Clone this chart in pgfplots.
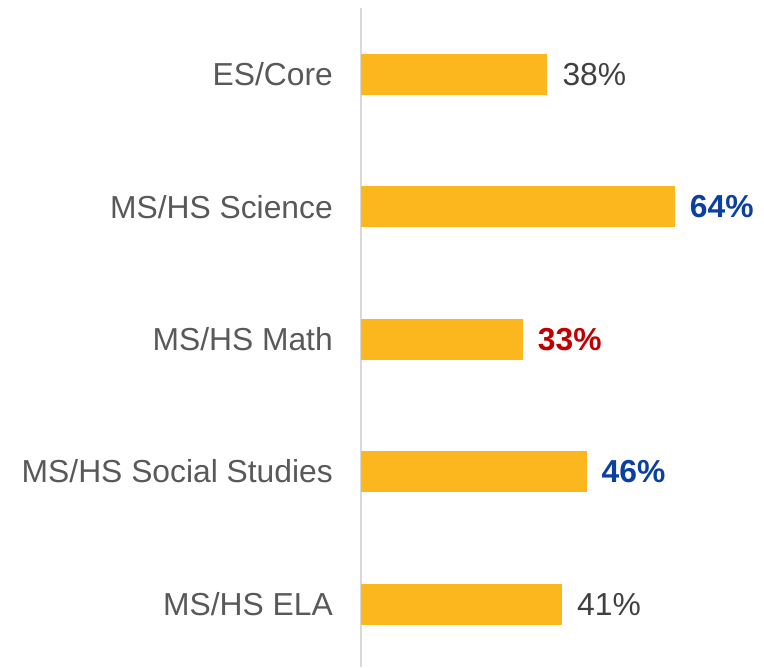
\documentclass[border=0pt]{standalone}
\usepackage{pgfplots}
\pgfplotsset{compat=1.18}
\usepackage{fontspec}
\setmainfont{Liberation Sans}
\definecolor{barc}{HTML}{FDB71E}
\definecolor{lblc}{HTML}{595959}
\definecolor{valc}{HTML}{404040}
\definecolor{goodc}{HTML}{0B3FA0}
\definecolor{badc}{HTML}{C00000}
\definecolor{axc}{HTML}{D9D9D9}
\begin{document}
\begin{tikzpicture}
\begin{axis}[
    name=ax,
    xbar,
    bar shift=0pt,
    bar width=41pt,
    scale only axis,
    width=403pt,
    height=659pt,
    xmin=0, xmax=82.2,
    ymin=-0.475, ymax=4.5,
    axis x line=none,
    axis y line*=left,
    axis line style={-, draw=axc, line width=1.5pt},
    ytick={0,1,2,3,4},
    yticklabels={MS/HS ELA, MS/HS Social Studies, MS/HS Math, MS/HS Science, ES/Core},
    major tick length=0pt,
    yticklabel style={font=\fontsize{31.8}{38}\selectfont, text=lblc, inner sep=0pt, xshift=-28pt},
    /pgf/number format/assume math mode=true,
    point meta=x,
    nodes near coords={\pgfmathprintnumber{\pgfplotspointmeta}\%},
    nodes near coords style={font=\fontsize{31.8}{38}\selectfont, text=valc, inner sep=0pt, anchor=west, xshift=15pt},
]
\addplot[fill=barc, draw=none] coordinates {(38,4)};
\addplot[fill=barc, draw=none, nodes near coords style={text=goodc, font=\fontsize{31.8}{38}\selectfont\bfseries}] coordinates {(64,3)};
\addplot[fill=barc, draw=none, nodes near coords style={text=badc, font=\fontsize{31.8}{38}\selectfont\bfseries}] coordinates {(33,2)};
\addplot[fill=barc, draw=none, nodes near coords style={text=goodc, font=\fontsize{31.8}{38}\selectfont\bfseries}] coordinates {(46,1)};
\addplot[fill=barc, draw=none] coordinates {(41,0)};
\end{axis}
\path (ax.south west) ++(-361pt,0pt);
\path (ax.north east) ++(0pt,8pt);
\end{tikzpicture}
\end{document}
